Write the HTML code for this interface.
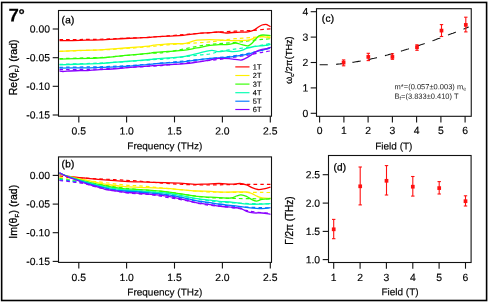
<!DOCTYPE html>
<html><head><meta charset="utf-8"><title>Faraday rotation 7 degrees</title>
<style>html,body{margin:0;padding:0;background:#fff;}body{width:489px;height:302px;overflow:hidden;}svg{display:block;will-change:transform;}text{font-family:"Liberation Sans", sans-serif;fill:#000;stroke:#000;stroke-width:0.15px;}</style>
</head><body>
<svg width="489" height="302" viewBox="0 0 489 302">
<rect x="0" y="0" width="489" height="302" fill="#fff"/>
<rect x="1.65" y="2.45" width="484.95" height="298.05" fill="none" stroke="#000" stroke-width="1.6"/>
<text transform="translate(8.5,21.5) rotate(0.04)" font-size="18.6" font-weight="bold" fill="#000">7<tspan font-size="15.5" dy="-1.5" dx="-0.4" stroke="#000" stroke-width="0.3">°</tspan></text>
<clipPath id="ca"><rect x="58.5" y="10.5" width="213.0" height="105.7"/></clipPath>
<g clip-path="url(#ca)" fill="none" stroke-linejoin="round">
<path d="M59.5,39.5 C62.9,39.5 72.2,39.6 80.0,39.5 C87.8,39.4 98.5,39.3 106.0,39.1 C113.5,38.9 117.7,38.5 125.0,38.2 C132.3,37.9 142.8,37.6 150.0,37.2 C157.2,36.8 158.8,36.6 168.0,35.9 C177.2,35.2 193.8,33.7 205.0,32.9 C216.2,32.1 227.2,31.6 235.0,31.2 C242.8,30.8 246.1,30.8 252.0,30.4 C257.9,30.0 267.4,29.1 270.5,28.8" stroke="#ff0000" stroke-width="1.22" stroke-dasharray="3.6,3.1"/>
<path d="M59.5,51.4 C62.9,51.3 72.2,50.9 80.0,50.6 C87.8,50.3 98.5,50.0 106.0,49.7 C113.5,49.4 117.7,49.1 125.0,48.6 C132.3,48.1 142.8,47.3 150.0,46.7 C157.2,46.1 160.2,45.4 168.0,44.8 C175.8,44.2 190.0,43.4 197.0,42.9 C204.0,42.4 203.7,42.6 210.0,41.9 C216.3,41.2 228.0,39.4 235.0,38.7 C242.0,38.0 246.1,38.0 252.0,37.5 C257.9,37.0 267.4,36.1 270.5,35.8" stroke="#fff000" stroke-width="1.22" stroke-dasharray="3.6,3.1"/>
<path d="M59.5,58.6 C64.6,58.5 82.2,58.0 90.0,57.8 C97.8,57.6 100.2,57.7 106.0,57.3 C111.8,56.9 117.7,56.2 125.0,55.6 C132.3,55.0 142.8,54.0 150.0,53.4 C157.2,52.8 158.8,53.3 168.0,51.9 C177.2,50.5 194.2,46.6 205.0,45.1 C215.8,43.6 225.8,43.4 233.0,42.7 C240.2,42.0 243.2,41.5 248.0,40.9 C252.8,40.3 258.2,39.8 262.0,39.4 C265.8,39.0 269.1,38.8 270.5,38.7" stroke="#33ff00" stroke-width="1.22" stroke-dasharray="3.6,3.1"/>
<path d="M59.5,64.4 C64.6,64.2 82.2,63.7 90.0,63.4 C97.8,63.1 100.2,63.1 106.0,62.8 C111.8,62.5 117.7,62.2 125.0,61.7 C132.3,61.2 142.8,60.4 150.0,59.9 C157.2,59.4 160.2,59.4 168.0,58.6 C175.8,57.8 190.0,56.1 197.0,55.3 C204.0,54.5 206.3,54.6 210.0,54.0 C213.7,53.4 215.2,52.4 219.0,51.6 C222.8,50.8 228.2,50.1 233.0,49.4 C237.8,48.7 243.2,48.0 248.0,47.3 C252.8,46.6 258.2,45.8 262.0,45.1 C265.8,44.4 269.1,43.6 270.5,43.3" stroke="#00ffb0" stroke-width="1.22" stroke-dasharray="3.6,3.1"/>
<path d="M59.5,67.3 C64.6,67.2 82.2,67.0 90.0,66.9 C97.8,66.8 100.2,66.8 106.0,66.6 C111.8,66.4 117.7,66.2 125.0,65.8 C132.3,65.4 142.8,64.5 150.0,64.0 C157.2,63.5 158.8,63.3 168.0,62.5 C177.2,61.7 194.2,60.1 205.0,59.0 C215.8,57.9 225.8,56.9 233.0,56.0 C240.2,55.1 243.2,54.4 248.0,53.4 C252.8,52.4 258.2,51.1 262.0,50.2 C265.8,49.3 269.1,48.5 270.5,48.2" stroke="#0078ff" stroke-width="1.22" stroke-dasharray="3.6,3.1"/>
<path d="M59.5,69.7 C64.6,69.6 82.2,69.5 90.0,69.3 C97.8,69.1 100.2,69.0 106.0,68.7 C111.8,68.4 117.7,68.0 125.0,67.6 C132.3,67.2 142.8,66.6 150.0,66.2 C157.2,65.8 158.8,65.9 168.0,65.0 C177.2,64.1 196.5,61.8 205.0,60.9 C213.5,60.0 214.3,60.0 219.0,59.4 C223.7,58.8 228.2,58.0 233.0,57.3 C237.8,56.6 243.2,55.9 248.0,55.1 C252.8,54.3 258.2,53.0 262.0,52.3 C265.8,51.6 269.1,51.1 270.5,50.9" stroke="#8a00ff" stroke-width="1.22" stroke-dasharray="3.6,3.1"/>
<path d="M59.5,40.7 C62.9,40.7 73.2,40.5 80.0,40.4 C86.8,40.2 92.5,40.1 100.0,39.8 C107.5,39.5 118.3,38.8 125.0,38.5 C131.7,38.2 135.8,38.1 140.0,37.9 C144.2,37.7 147.7,37.6 150.0,37.4 C152.3,37.2 151.0,37.1 154.0,36.9 C157.0,36.7 163.2,36.4 168.0,36.1 C172.8,35.8 178.2,35.7 183.0,35.3 C187.8,34.9 192.5,34.0 197.0,33.6 C201.5,33.2 206.3,32.9 210.0,32.6 C213.7,32.3 216.3,31.9 219.0,32.0 C221.7,32.1 223.7,32.9 226.0,33.0 C228.3,33.1 230.5,32.6 233.0,32.5 C235.5,32.4 238.5,32.2 241.0,32.1 C243.5,32.0 245.8,32.2 248.0,31.9 C250.2,31.6 252.3,31.0 254.0,30.2 C255.7,29.4 256.7,28.1 258.0,27.2 C259.3,26.3 260.7,25.5 262.0,25.0 C263.3,24.5 265.0,24.4 266.0,24.4 C267.0,24.4 267.2,24.8 268.0,25.2 C268.8,25.6 270.1,26.4 270.5,26.7" stroke="#ff0000" stroke-width="1.28"/>
<path d="M59.5,51.3 C62.9,51.1 73.2,50.6 80.0,50.4 C86.8,50.1 95.7,50.0 100.0,49.8 C104.3,49.6 101.8,49.6 106.0,49.3 C110.2,49.0 119.3,48.4 125.0,48.0 C130.7,47.6 135.8,47.2 140.0,46.9 C144.2,46.5 147.7,46.2 150.0,45.9 C152.3,45.6 151.0,45.5 154.0,45.2 C157.0,44.9 163.2,44.2 168.0,43.9 C172.8,43.6 179.3,43.9 183.0,43.6 C186.7,43.3 187.7,42.7 190.0,42.1 C192.3,41.5 193.7,40.6 197.0,40.2 C200.3,39.8 206.3,39.6 210.0,39.6 C213.7,39.6 215.2,39.8 219.0,40.0 C222.8,40.2 228.2,40.6 233.0,40.6 C237.8,40.6 244.5,40.6 248.0,40.2 C251.5,39.8 252.2,38.8 254.0,38.2 C255.8,37.6 257.3,37.0 259.0,36.8 C260.7,36.6 262.1,36.6 264.0,36.8 C265.9,37.0 269.4,37.7 270.5,37.9" stroke="#fff000" stroke-width="1.28"/>
<path d="M59.5,59.1 C64.6,59.0 83.2,58.5 90.0,58.3 C96.8,58.1 97.3,58.0 100.0,57.9 C102.7,57.8 101.8,57.9 106.0,57.5 C110.2,57.1 119.3,56.0 125.0,55.4 C130.7,54.8 135.8,54.5 140.0,54.1 C144.2,53.7 147.7,53.4 150.0,53.1 C152.3,52.8 151.0,52.8 154.0,52.5 C157.0,52.2 163.2,51.8 168.0,51.4 C172.8,51.0 178.2,51.0 183.0,50.4 C187.8,49.8 192.5,48.7 197.0,47.9 C201.5,47.1 206.3,45.9 210.0,45.4 C213.7,44.9 215.8,44.9 219.0,44.7 C222.2,44.5 226.2,44.7 229.0,44.4 C231.8,44.1 233.3,43.0 235.5,43.0 C237.7,43.0 239.9,44.2 242.0,44.7 C244.1,45.2 246.3,46.1 248.0,45.9 C249.7,45.6 250.7,44.4 252.0,43.2 C253.3,42.0 254.8,40.0 256.0,38.8 C257.2,37.6 257.8,36.5 259.0,35.9 C260.2,35.3 261.1,35.0 263.0,35.0 C264.9,35.0 269.2,35.5 270.5,35.6" stroke="#33ff00" stroke-width="1.28"/>
<path d="M59.5,64.8 C64.6,64.6 83.2,64.0 90.0,63.8 C96.8,63.6 97.3,63.6 100.0,63.5 C102.7,63.4 101.8,63.3 106.0,63.0 C110.2,62.7 119.3,62.0 125.0,61.5 C130.7,61.0 135.8,60.6 140.0,60.3 C144.2,60.0 147.7,59.7 150.0,59.5 C152.3,59.3 151.0,59.3 154.0,59.0 C157.0,58.7 163.2,58.3 168.0,57.9 C172.8,57.5 178.2,57.4 183.0,56.7 C187.8,56.0 193.3,54.5 197.0,53.6 C200.7,52.8 202.5,52.1 205.0,51.6 C207.5,51.1 209.7,50.4 212.0,50.4 C214.3,50.4 216.7,51.5 219.0,51.6 C221.3,51.7 223.7,50.9 226.0,50.9 C228.3,50.9 230.7,51.6 233.0,51.6 C235.3,51.6 237.8,51.4 240.0,50.9 C242.2,50.4 244.0,49.4 246.0,48.7 C248.0,48.1 250.0,47.4 252.0,47.0 C254.0,46.6 256.0,46.4 258.0,46.1 C260.0,45.9 262.3,45.7 264.0,45.5 C265.7,45.3 266.9,45.2 268.0,45.0 C269.1,44.8 270.1,44.2 270.5,44.1" stroke="#00ffb0" stroke-width="1.28"/>
<path d="M59.5,68.2 C64.6,68.1 83.2,67.9 90.0,67.8 C96.8,67.7 94.2,67.6 100.0,67.4 C105.8,67.2 118.3,66.8 125.0,66.4 C131.7,66.0 135.8,65.5 140.0,65.2 C144.2,64.9 147.7,64.6 150.0,64.4 C152.3,64.2 151.0,64.2 154.0,63.9 C157.0,63.6 163.2,63.2 168.0,62.9 C172.8,62.6 178.2,62.4 183.0,61.9 C187.8,61.4 192.5,60.6 197.0,60.0 C201.5,59.4 206.3,58.7 210.0,58.4 C213.7,58.1 215.2,58.3 219.0,58.0 C222.8,57.7 229.2,57.1 233.0,56.6 C236.8,56.1 239.5,55.5 242.0,55.1 C244.5,54.7 246.0,54.6 248.0,54.1 C250.0,53.6 252.2,52.8 254.0,52.3 C255.8,51.8 257.2,51.4 259.0,50.9 C260.8,50.4 263.1,50.0 265.0,49.4 C266.9,48.8 269.6,47.6 270.5,47.3" stroke="#0078ff" stroke-width="1.28"/>
<path d="M59.5,70.9 C60.1,71.0 61.2,71.5 63.0,71.5 C64.8,71.5 67.2,71.2 70.0,71.0 C72.8,70.8 77.3,70.5 80.0,70.5 C82.7,70.5 84.0,70.8 86.0,70.7 C88.0,70.7 89.7,70.4 92.0,70.2 C94.3,70.0 96.7,69.9 100.0,69.7 C103.3,69.5 107.8,69.3 112.0,69.0 C116.2,68.7 120.3,68.3 125.0,67.9 C129.7,67.5 135.8,66.9 140.0,66.6 C144.2,66.3 147.7,66.1 150.0,65.9 C152.3,65.7 151.0,65.8 154.0,65.6 C157.0,65.4 163.2,65.0 168.0,64.7 C172.8,64.4 178.2,64.3 183.0,63.9 C187.8,63.5 192.5,62.8 197.0,62.1 C201.5,61.5 206.3,60.6 210.0,60.0 C213.7,59.4 215.8,58.6 219.0,58.4 C222.2,58.2 226.3,58.5 229.0,58.7 C231.7,58.9 233.0,59.2 235.0,59.4 C237.0,59.6 239.3,60.2 241.0,60.1 C242.7,60.0 243.3,59.5 245.0,58.7 C246.7,57.9 249.2,56.3 251.0,55.1 C252.8,53.9 254.2,52.6 256.0,51.6 C257.8,50.6 260.0,49.9 262.0,49.4 C264.0,48.9 266.6,48.8 268.0,48.4 C269.4,48.0 270.1,47.5 270.5,47.3" stroke="#8a00ff" stroke-width="1.28"/>
</g>
<rect x="58.5" y="10.5" width="213.0" height="105.7" fill="none" stroke="#111" stroke-width="1.1"/>
<line x1="78.8" y1="116.2" x2="78.8" y2="122.4" stroke="#111" stroke-width="1.1"/>
<line x1="126.6" y1="116.2" x2="126.6" y2="122.4" stroke="#111" stroke-width="1.1"/>
<line x1="174.5" y1="116.2" x2="174.5" y2="122.4" stroke="#111" stroke-width="1.1"/>
<line x1="222.4" y1="116.2" x2="222.4" y2="122.4" stroke="#111" stroke-width="1.1"/>
<line x1="270.3" y1="116.2" x2="270.3" y2="122.4" stroke="#111" stroke-width="1.1"/>
<text transform="translate(78.80,134.50) rotate(0.04)" font-size="10.4" text-anchor="middle" >0.5</text>
<text transform="translate(126.60,134.50) rotate(0.04)" font-size="10.4" text-anchor="middle" >1.0</text>
<text transform="translate(174.50,134.50) rotate(0.04)" font-size="10.4" text-anchor="middle" >1.5</text>
<text transform="translate(222.40,134.50) rotate(0.04)" font-size="10.4" text-anchor="middle" >2.0</text>
<text transform="translate(270.30,134.50) rotate(0.04)" font-size="10.4" text-anchor="middle" >2.5</text>
<line x1="52.7" y1="29.0" x2="58.5" y2="29.0" stroke="#111" stroke-width="1.1"/>
<line x1="52.7" y1="57.7" x2="58.5" y2="57.7" stroke="#111" stroke-width="1.1"/>
<line x1="52.7" y1="86.3" x2="58.5" y2="86.3" stroke="#111" stroke-width="1.1"/>
<line x1="52.7" y1="115.0" x2="58.5" y2="115.0" stroke="#111" stroke-width="1.1"/>
<text transform="translate(50.00,32.50) rotate(0.04)" font-size="10.4" text-anchor="end" >0.00</text>
<text transform="translate(50.00,61.17) rotate(0.04)" font-size="10.4" text-anchor="end" >-0.05</text>
<text transform="translate(50.00,89.83) rotate(0.04)" font-size="10.4" text-anchor="end" >-0.10</text>
<text transform="translate(50.00,118.50) rotate(0.04)" font-size="10.4" text-anchor="end" >-0.15</text>
<text transform="translate(164.80,149.20) rotate(0.04)" font-size="10" text-anchor="middle" >Frequency (THz)</text>
<text transform="translate(17.1,67.4) rotate(-90)" font-size="10.5" text-anchor="middle" style="stroke-width:0.3px">Re(θ<tspan font-size="6" dy="1.5" dx="0.3">F</tspan><tspan dy="-1.5" dx="0.4">) (rad)</tspan></text>
<text transform="translate(61.60,23.30) rotate(0.04)" font-size="10" text-anchor="start" style="stroke-width:0.3px;letter-spacing:0.25px">(a)</text>
<line x1="235.3" y1="66.9" x2="249.5" y2="66.9" stroke="#ff0000" stroke-width="1.15"/>
<text transform="translate(252.80,69.50) rotate(0.04)" font-size="7.4" text-anchor="start" fill="#000">1T</text>
<line x1="235.3" y1="75.5" x2="249.5" y2="75.5" stroke="#fff000" stroke-width="1.15"/>
<text transform="translate(252.80,78.10) rotate(0.04)" font-size="7.4" text-anchor="start" fill="#000">2T</text>
<line x1="235.3" y1="84.1" x2="249.5" y2="84.1" stroke="#33ff00" stroke-width="1.15"/>
<text transform="translate(252.80,86.70) rotate(0.04)" font-size="7.4" text-anchor="start" fill="#000">3T</text>
<line x1="235.3" y1="92.7" x2="249.5" y2="92.7" stroke="#00ffb0" stroke-width="1.15"/>
<text transform="translate(252.80,95.30) rotate(0.04)" font-size="7.4" text-anchor="start" fill="#000">4T</text>
<line x1="235.3" y1="101.2" x2="249.5" y2="101.2" stroke="#0078ff" stroke-width="1.15"/>
<text transform="translate(252.80,103.80) rotate(0.04)" font-size="7.4" text-anchor="start" fill="#000">5T</text>
<line x1="235.3" y1="109.5" x2="249.5" y2="109.5" stroke="#8a00ff" stroke-width="1.15"/>
<text transform="translate(252.80,112.10) rotate(0.04)" font-size="7.4" text-anchor="start" fill="#000">6T</text>
<clipPath id="cb"><rect x="58.5" y="156.9" width="213.0" height="105.49999999999997"/></clipPath>
<g clip-path="url(#cb)" fill="none" stroke-linejoin="round">
<path d="M59.5,175.8 C60.9,176.1 65.4,177.0 68.0,177.3 C70.6,177.6 72.3,177.6 75.0,177.7 C77.7,177.8 80.2,177.9 84.0,178.1 C87.8,178.3 91.2,178.6 98.0,178.9 C104.8,179.2 116.3,179.7 125.0,180.2 C133.7,180.7 143.3,181.5 150.0,182.0 C156.7,182.5 159.5,183.0 165.0,183.4 C170.5,183.8 176.3,184.1 183.0,184.4 C189.7,184.7 196.3,185.0 205.0,185.0 C213.7,185.0 224.1,184.6 235.0,184.5 C245.9,184.4 264.6,184.4 270.5,184.4" stroke="#ff0000" stroke-width="1.22" stroke-dasharray="3.6,3.1"/>
<path d="M59.5,177.4 C60.9,177.7 65.4,178.6 68.0,179.0 C70.6,179.4 72.3,179.8 75.0,180.0 C77.7,180.2 80.2,180.2 84.0,180.5 C87.8,180.8 91.2,181.1 98.0,181.8 C104.8,182.6 118.0,184.3 125.0,185.0 C132.0,185.7 133.3,185.4 140.0,185.9 C146.7,186.4 154.2,187.2 165.0,188.2 C175.8,189.2 193.3,191.1 205.0,191.8 C216.7,192.5 224.1,192.2 235.0,192.3 C245.9,192.4 264.6,192.5 270.5,192.5" stroke="#fff000" stroke-width="1.22" stroke-dasharray="3.6,3.1"/>
<path d="M59.5,178.4 C60.9,178.6 65.4,179.4 68.0,179.8 C70.6,180.2 72.3,180.5 75.0,180.8 C77.7,181.1 80.2,181.1 84.0,181.6 C87.8,182.1 91.2,182.9 98.0,184.0 C104.8,185.1 113.8,186.9 125.0,188.2 C136.2,189.5 151.7,190.3 165.0,191.8 C178.3,193.3 193.3,196.1 205.0,197.2 C216.7,198.3 224.1,198.1 235.0,198.4 C245.9,198.7 264.6,198.8 270.5,198.9" stroke="#33ff00" stroke-width="1.22" stroke-dasharray="3.6,3.1"/>
<path d="M59.5,179.2 C60.9,179.4 65.4,180.1 68.0,180.4 C70.6,180.8 72.3,181.0 75.0,181.3 C77.7,181.6 80.2,181.6 84.0,182.3 C87.8,183.0 91.2,184.2 98.0,185.4 C104.8,186.7 113.8,188.5 125.0,189.8 C136.2,191.1 151.7,191.7 165.0,193.4 C178.3,195.1 193.3,198.6 205.0,200.2 C216.7,201.8 224.1,202.4 235.0,203.0 C245.9,203.6 264.6,203.8 270.5,204.0" stroke="#00ffb0" stroke-width="1.22" stroke-dasharray="3.6,3.1"/>
<path d="M59.5,179.9 C60.9,180.1 65.4,180.6 68.0,180.9 C70.6,181.2 72.3,181.5 75.0,181.8 C77.7,182.1 80.2,182.1 84.0,182.9 C87.8,183.7 91.2,185.1 98.0,186.4 C104.8,187.8 113.8,189.6 125.0,191.0 C136.2,192.4 151.7,193.1 165.0,195.0 C178.3,196.9 193.3,200.7 205.0,202.6 C216.7,204.5 224.1,205.5 235.0,206.4 C245.9,207.3 264.6,207.7 270.5,208.0" stroke="#0078ff" stroke-width="1.22" stroke-dasharray="3.6,3.1"/>
<path d="M59.5,180.5 C60.9,180.7 65.4,181.1 68.0,181.4 C70.6,181.7 72.3,182.0 75.0,182.3 C77.7,182.7 80.2,182.7 84.0,183.5 C87.8,184.3 91.2,185.9 98.0,187.4 C104.8,188.9 116.3,191.4 125.0,192.6 C133.7,193.8 143.3,193.9 150.0,194.6 C156.7,195.3 159.5,196.1 165.0,197.0 C170.5,197.9 176.3,198.7 183.0,200.0 C189.7,201.3 196.3,203.3 205.0,204.6 C213.7,205.9 228.2,207.0 235.0,208.0 C241.8,209.0 242.7,209.7 246.0,210.4 C249.3,211.1 250.9,211.5 255.0,212.0 C259.1,212.5 267.9,213.2 270.5,213.4" stroke="#8a00ff" stroke-width="1.22" stroke-dasharray="3.6,3.1"/>
<path d="M59.5,174.0 C61.1,174.4 64.9,175.7 69.0,176.4 C73.1,177.1 79.2,177.5 84.0,178.0 C88.8,178.5 93.5,179.0 98.0,179.4 C102.5,179.8 106.5,180.1 111.0,180.4 C115.5,180.7 120.2,181.1 125.0,181.3 C129.8,181.6 133.3,181.7 140.0,181.9 C146.7,182.1 157.8,182.4 165.0,182.6 C172.2,182.8 178.0,183.0 183.0,183.3 C188.0,183.6 191.3,184.2 195.0,184.3 C198.7,184.4 201.0,184.2 205.0,184.1 C209.0,184.0 214.7,183.5 219.0,183.5 C223.3,183.5 227.5,184.1 231.0,184.1 C234.5,184.1 237.4,183.4 240.0,183.5 C242.6,183.6 244.5,184.2 246.5,184.9 C248.5,185.6 250.1,186.9 252.0,187.7 C253.9,188.5 256.0,189.3 258.0,189.5 C260.0,189.7 261.9,189.3 264.0,188.9 C266.1,188.5 269.4,187.5 270.5,187.2" stroke="#ff0000" stroke-width="1.28"/>
<path d="M59.5,173.6 C61.1,174.1 64.9,175.6 69.0,176.6 C73.1,177.6 79.2,178.7 84.0,179.7 C88.8,180.7 93.5,181.9 98.0,182.8 C102.5,183.7 106.5,184.4 111.0,185.0 C115.5,185.6 120.2,186.2 125.0,186.6 C129.8,187.0 133.3,187.0 140.0,187.3 C146.7,187.6 157.8,188.0 165.0,188.4 C172.2,188.8 177.7,189.5 183.0,189.9 C188.3,190.3 192.5,190.8 197.0,191.0 C201.5,191.2 206.3,191.2 210.0,191.4 C213.7,191.6 215.2,191.9 219.0,192.0 C222.8,192.1 228.5,192.0 233.0,192.0 C237.5,192.0 242.8,191.7 246.0,192.0 C249.2,192.3 250.2,192.9 252.0,193.6 C253.8,194.3 255.3,195.5 257.0,196.2 C258.7,196.9 259.8,197.5 262.0,197.9 C264.2,198.3 269.1,198.4 270.5,198.5" stroke="#fff000" stroke-width="1.28"/>
<path d="M59.5,173.3 C61.1,173.9 64.9,175.5 69.0,176.8 C73.1,178.1 79.2,179.7 84.0,180.9 C88.8,182.2 93.5,183.3 98.0,184.3 C102.5,185.3 106.5,186.2 111.0,187.0 C115.5,187.8 120.2,188.4 125.0,188.8 C129.8,189.2 133.3,189.1 140.0,189.6 C146.7,190.1 157.8,190.8 165.0,191.6 C172.2,192.4 177.7,193.4 183.0,194.2 C188.3,195.0 192.5,195.9 197.0,196.4 C201.5,196.9 206.3,197.0 210.0,197.2 C213.7,197.4 215.5,197.5 219.0,197.6 C222.5,197.7 228.1,198.3 231.0,198.0 C233.9,197.7 234.8,196.5 236.5,196.0 C238.2,195.5 239.3,194.8 241.0,194.9 C242.7,195.0 244.7,195.6 246.5,196.4 C248.3,197.2 250.3,198.9 252.0,199.7 C253.7,200.5 254.8,201.1 256.5,201.1 C258.2,201.1 259.7,199.8 262.0,199.4 C264.3,199.0 269.1,198.7 270.5,198.5" stroke="#33ff00" stroke-width="1.28"/>
<path d="M59.5,173.1 C61.1,173.7 64.9,175.5 69.0,176.9 C73.1,178.3 79.2,180.1 84.0,181.5 C88.8,182.9 93.5,184.3 98.0,185.4 C102.5,186.5 106.5,187.4 111.0,188.2 C115.5,189.0 120.2,189.6 125.0,190.0 C129.8,190.4 133.3,190.4 140.0,190.9 C146.7,191.4 157.8,192.1 165.0,192.9 C172.2,193.7 177.7,194.9 183.0,195.8 C188.3,196.8 192.5,197.9 197.0,198.6 C201.5,199.3 206.3,199.8 210.0,200.2 C213.7,200.6 215.2,201.0 219.0,201.3 C222.8,201.7 228.2,201.8 233.0,202.3 C237.8,202.8 243.2,203.8 248.0,204.1 C252.8,204.4 258.2,204.2 262.0,204.1 C265.8,204.0 269.1,203.7 270.5,203.6" stroke="#00ffb0" stroke-width="1.28"/>
<path d="M59.5,173.0 C61.1,173.7 64.9,175.5 69.0,177.0 C73.1,178.5 79.2,180.6 84.0,182.1 C88.8,183.6 93.5,185.0 98.0,186.2 C102.5,187.4 106.5,188.5 111.0,189.3 C115.5,190.1 120.2,190.6 125.0,191.0 C129.8,191.4 133.3,191.4 140.0,192.0 C146.7,192.6 157.8,193.4 165.0,194.3 C172.2,195.2 177.7,196.5 183.0,197.6 C188.3,198.7 192.5,200.0 197.0,200.8 C201.5,201.6 206.3,202.1 210.0,202.6 C213.7,203.1 215.2,203.5 219.0,204.0 C222.8,204.5 228.2,205.0 233.0,205.6 C237.8,206.2 243.2,207.1 248.0,207.6 C252.8,208.1 258.2,208.6 262.0,208.6 C265.8,208.6 269.1,207.8 270.5,207.6" stroke="#0078ff" stroke-width="1.28"/>
<path d="M59.5,172.6 C60.2,173.0 61.9,174.2 63.5,175.0 C65.1,175.8 66.9,176.5 69.0,177.3 C71.1,178.1 73.5,179.1 76.0,180.0 C78.5,180.9 81.5,182.1 84.0,183.0 C86.5,183.9 88.7,184.5 91.0,185.2 C93.3,185.9 95.7,186.4 98.0,187.1 C100.3,187.8 102.7,188.7 105.0,189.3 C107.3,189.9 108.7,190.0 112.0,190.5 C115.3,191.0 120.3,191.8 125.0,192.3 C129.7,192.8 133.3,192.7 140.0,193.3 C146.7,193.9 157.8,194.8 165.0,195.8 C172.2,196.8 177.7,198.1 183.0,199.3 C188.3,200.5 192.5,202.0 197.0,202.9 C201.5,203.8 206.3,204.1 210.0,204.6 C213.7,205.1 215.2,205.5 219.0,206.0 C222.8,206.5 229.5,207.1 233.0,207.5 C236.5,207.9 237.8,207.6 240.0,208.2 C242.2,208.8 244.2,210.5 246.5,211.3 C248.8,212.1 250.9,212.6 253.5,212.9 C256.1,213.2 259.2,212.8 262.0,213.0 C264.8,213.2 269.1,214.1 270.5,214.3" stroke="#8a00ff" stroke-width="1.28"/>
</g>
<rect x="58.5" y="156.9" width="213.0" height="105.49999999999997" fill="none" stroke="#111" stroke-width="1.1"/>
<line x1="78.8" y1="262.4" x2="78.8" y2="268.59999999999997" stroke="#111" stroke-width="1.1"/>
<line x1="126.6" y1="262.4" x2="126.6" y2="268.59999999999997" stroke="#111" stroke-width="1.1"/>
<line x1="174.5" y1="262.4" x2="174.5" y2="268.59999999999997" stroke="#111" stroke-width="1.1"/>
<line x1="222.4" y1="262.4" x2="222.4" y2="268.59999999999997" stroke="#111" stroke-width="1.1"/>
<line x1="270.3" y1="262.4" x2="270.3" y2="268.59999999999997" stroke="#111" stroke-width="1.1"/>
<text transform="translate(78.80,281.00) rotate(0.04)" font-size="10.4" text-anchor="middle" >0.5</text>
<text transform="translate(126.60,281.00) rotate(0.04)" font-size="10.4" text-anchor="middle" >1.0</text>
<text transform="translate(174.50,281.00) rotate(0.04)" font-size="10.4" text-anchor="middle" >1.5</text>
<text transform="translate(222.40,281.00) rotate(0.04)" font-size="10.4" text-anchor="middle" >2.0</text>
<text transform="translate(270.30,281.00) rotate(0.04)" font-size="10.4" text-anchor="middle" >2.5</text>
<line x1="52.7" y1="175.4" x2="58.5" y2="175.4" stroke="#111" stroke-width="1.1"/>
<line x1="52.7" y1="204.1" x2="58.5" y2="204.1" stroke="#111" stroke-width="1.1"/>
<line x1="52.7" y1="232.7" x2="58.5" y2="232.7" stroke="#111" stroke-width="1.1"/>
<line x1="52.7" y1="261.4" x2="58.5" y2="261.4" stroke="#111" stroke-width="1.1"/>
<text transform="translate(50.00,178.90) rotate(0.04)" font-size="10.4" text-anchor="end" >0.00</text>
<text transform="translate(50.00,207.57) rotate(0.04)" font-size="10.4" text-anchor="end" >-0.05</text>
<text transform="translate(50.00,236.23) rotate(0.04)" font-size="10.4" text-anchor="end" >-0.10</text>
<text transform="translate(50.00,264.90) rotate(0.04)" font-size="10.4" text-anchor="end" >-0.15</text>
<text transform="translate(164.80,295.60) rotate(0.04)" font-size="10" text-anchor="middle" >Frequency (THz)</text>
<text transform="translate(17.1,211.8) rotate(-90)" font-size="10.5" text-anchor="middle" style="stroke-width:0.3px">Im(θ<tspan font-size="6" dy="1.5" dx="0.3">F</tspan><tspan dy="-1.5" dx="0.4">) (rad)</tspan></text>
<text transform="translate(61.60,167.30) rotate(0.04)" font-size="10" text-anchor="start" style="stroke-width:0.3px;letter-spacing:0.25px">(b)</text>
<clipPath id="cc"><rect x="316.5" y="8.7" width="154.75" height="107.6"/></clipPath>
<g clip-path="url(#cc)">
<path d="M319.6,64.8 L320.8,64.8 L322.0,64.8 L323.2,64.8 L324.5,64.8 L325.7,64.8 L326.9,64.7 L328.1,64.7 L329.3,64.6 L330.5,64.6 L331.7,64.5 L332.9,64.4 L334.2,64.4 L335.4,64.3 L336.6,64.2 L337.8,64.1 L339.0,64.0 L340.2,63.9 L341.4,63.7 L342.6,63.6 L343.9,63.5 L345.1,63.3 L346.3,63.2 L347.5,63.0 L348.7,62.9 L349.9,62.7 L351.1,62.6 L352.3,62.4 L353.6,62.2 L354.8,62.0 L356.0,61.8 L357.2,61.6 L358.4,61.4 L359.6,61.2 L360.8,61.0 L362.0,60.8 L363.2,60.5 L364.5,60.3 L365.7,60.1 L366.9,59.8 L368.1,59.6 L369.3,59.3 L370.5,59.1 L371.7,58.8 L373.0,58.5 L374.2,58.3 L375.4,58.0 L376.6,57.7 L377.8,57.4 L379.0,57.1 L380.2,56.8 L381.4,56.5 L382.7,56.2 L383.9,55.9 L385.1,55.6 L386.3,55.3 L387.5,55.0 L388.7,54.6 L389.9,54.3 L391.1,54.0 L392.4,53.6 L393.6,53.3 L394.8,53.0 L396.0,52.6 L397.2,52.3 L398.4,51.9 L399.6,51.5 L400.8,51.2 L402.1,50.8 L403.3,50.5 L404.5,50.1 L405.7,49.7 L406.9,49.3 L408.1,49.0 L409.3,48.6 L410.5,48.2 L411.8,47.8 L413.0,47.4 L414.2,47.0 L415.4,46.6 L416.6,46.2 L417.8,45.8 L419.0,45.4 L420.2,45.0 L421.5,44.6 L422.7,44.2 L423.9,43.8 L425.1,43.3 L426.3,42.9 L427.5,42.5 L428.7,42.1 L429.9,41.6 L431.2,41.2 L432.4,40.8 L433.6,40.4 L434.8,39.9 L436.0,39.5 L437.2,39.0 L438.4,38.6 L439.6,38.2 L440.9,37.7 L442.1,37.3 L443.3,36.8 L444.5,36.4 L445.7,35.9 L446.9,35.5 L448.1,35.0 L449.3,34.6 L450.6,34.1 L451.8,33.6 L453.0,33.2 L454.2,32.7 L455.4,32.3 L456.6,31.8 L457.8,31.3 L459.0,30.9 L460.2,30.4 L461.5,29.9 L462.7,29.4 L463.9,29.0 L465.1,28.5 L466.3,28.0 L467.5,27.5 L468.7,27.1" fill="none" stroke="#111" stroke-width="1.1" stroke-dasharray="8.4,8.2" stroke-dashoffset="0.2"/>
</g>
<g stroke="#ff1010" stroke-width="1.1" fill="#ff1010"><line x1="343.6" y1="59.9" x2="343.6" y2="65.8"/><line x1="341.90000000000003" y1="59.9" x2="345.3" y2="59.9"/><line x1="341.90000000000003" y1="65.8" x2="345.3" y2="65.8"/><rect x="341.75" y="60.75" width="3.7" height="3.7" stroke="none"/></g>
<g stroke="#ff1010" stroke-width="1.1" fill="#ff1010"><line x1="368.3" y1="53.3" x2="368.3" y2="60.6"/><line x1="366.6" y1="53.3" x2="370.0" y2="53.3"/><line x1="366.6" y1="60.6" x2="370.0" y2="60.6"/><rect x="366.45" y="55.05" width="3.7" height="3.7" stroke="none"/></g>
<g stroke="#ff1010" stroke-width="1.1" fill="#ff1010"><line x1="392.4" y1="53.8" x2="392.4" y2="59.3"/><line x1="390.7" y1="53.8" x2="394.09999999999997" y2="53.8"/><line x1="390.7" y1="59.3" x2="394.09999999999997" y2="59.3"/><rect x="390.54999999999995" y="55.05" width="3.7" height="3.7" stroke="none"/></g>
<g stroke="#ff1010" stroke-width="1.1" fill="#ff1010"><line x1="417.0" y1="44.8" x2="417.0" y2="50.3"/><line x1="415.3" y1="44.8" x2="418.7" y2="44.8"/><line x1="415.3" y1="50.3" x2="418.7" y2="50.3"/><rect x="415.15" y="45.35" width="3.7" height="3.7" stroke="none"/></g>
<g stroke="#ff1010" stroke-width="1.1" fill="#ff1010"><line x1="441.5" y1="24.6" x2="441.5" y2="36.5"/><line x1="439.8" y1="24.6" x2="443.2" y2="24.6"/><line x1="439.8" y1="36.5" x2="443.2" y2="36.5"/><rect x="439.65" y="28.75" width="3.7" height="3.7" stroke="none"/></g>
<g stroke="#ff1010" stroke-width="1.1" fill="#ff1010"><line x1="465.8" y1="17.2" x2="465.8" y2="31.9"/><line x1="464.1" y1="17.2" x2="467.5" y2="17.2"/><line x1="464.1" y1="31.9" x2="467.5" y2="31.9"/><rect x="463.95" y="23.049999999999997" width="3.7" height="3.7" stroke="none"/></g>
<rect x="316.5" y="8.7" width="154.75" height="107.6" fill="none" stroke="#111" stroke-width="1.1"/>
<line x1="319.6" y1="116.3" x2="319.6" y2="122.5" stroke="#111" stroke-width="1.1"/>
<line x1="343.9" y1="116.3" x2="343.9" y2="122.5" stroke="#111" stroke-width="1.1"/>
<line x1="368.1" y1="116.3" x2="368.1" y2="122.5" stroke="#111" stroke-width="1.1"/>
<line x1="392.4" y1="116.3" x2="392.4" y2="122.5" stroke="#111" stroke-width="1.1"/>
<line x1="416.6" y1="116.3" x2="416.6" y2="122.5" stroke="#111" stroke-width="1.1"/>
<line x1="440.9" y1="116.3" x2="440.9" y2="122.5" stroke="#111" stroke-width="1.1"/>
<line x1="465.1" y1="116.3" x2="465.1" y2="122.5" stroke="#111" stroke-width="1.1"/>
<text transform="translate(319.60,134.00) rotate(0.04)" font-size="10.4" text-anchor="middle" >0</text>
<text transform="translate(343.85,134.00) rotate(0.04)" font-size="10.4" text-anchor="middle" >1</text>
<text transform="translate(368.10,134.00) rotate(0.04)" font-size="10.4" text-anchor="middle" >2</text>
<text transform="translate(392.35,134.00) rotate(0.04)" font-size="10.4" text-anchor="middle" >3</text>
<text transform="translate(416.60,134.00) rotate(0.04)" font-size="10.4" text-anchor="middle" >4</text>
<text transform="translate(440.85,134.00) rotate(0.04)" font-size="10.4" text-anchor="middle" >5</text>
<text transform="translate(465.10,134.00) rotate(0.04)" font-size="10.4" text-anchor="middle" >6</text>
<line x1="310.7" y1="11.7" x2="316.5" y2="11.7" stroke="#111" stroke-width="1.1"/>
<line x1="310.7" y1="37.1" x2="316.5" y2="37.1" stroke="#111" stroke-width="1.1"/>
<line x1="310.7" y1="62.5" x2="316.5" y2="62.5" stroke="#111" stroke-width="1.1"/>
<line x1="310.7" y1="87.9" x2="316.5" y2="87.9" stroke="#111" stroke-width="1.1"/>
<line x1="310.7" y1="113.3" x2="316.5" y2="113.3" stroke="#111" stroke-width="1.1"/>
<text transform="translate(308.20,15.30) rotate(0.04)" font-size="10.4" text-anchor="end" >4</text>
<text transform="translate(308.20,40.70) rotate(0.04)" font-size="10.4" text-anchor="end" >3</text>
<text transform="translate(308.20,66.10) rotate(0.04)" font-size="10.4" text-anchor="end" >2</text>
<text transform="translate(308.20,91.50) rotate(0.04)" font-size="10.4" text-anchor="end" >1</text>
<text transform="translate(308.20,116.90) rotate(0.04)" font-size="10.4" text-anchor="end" >0</text>
<text transform="translate(393.80,149.40) rotate(0.04)" font-size="10" text-anchor="middle" >Field (T)</text>
<text transform="translate(292.3,60.1) rotate(-90)" font-size="9.1" text-anchor="middle" style="stroke-width:0.25px">ω<tspan font-size="6" dy="1.5">c</tspan><tspan dy="-1.5">/2π</tspan><tspan dx="0.7">(THz)</tspan></text>
<text transform="translate(321.80,21.80) rotate(0.04)" font-size="10" text-anchor="start" style="stroke-width:0.3px;letter-spacing:0.25px">(c)</text>
<text transform="translate(394.60,89.30) rotate(0.04)" font-size="7.5" text-anchor="start" style="fill:#222;stroke:none">m*=(0.057±0.003) m<tspan font-size="5" dy="1.2">e</tspan></text>
<text transform="translate(394.60,98.70) rotate(0.04)" font-size="7.5" text-anchor="start" style="fill:#222;stroke:none">B<tspan font-size="5" dy="1.2">f</tspan><tspan dy="-1.2">=(3.833±0.410) T</tspan></text>
<g stroke="#ff1010" stroke-width="1.1" fill="#ff1010"><line x1="333.7" y1="219.4" x2="333.7" y2="238.7"/><line x1="332.0" y1="219.4" x2="335.4" y2="219.4"/><line x1="332.0" y1="238.7" x2="335.4" y2="238.7"/><rect x="331.84999999999997" y="227.45000000000002" width="3.7" height="3.7" stroke="none"/></g>
<g stroke="#ff1010" stroke-width="1.1" fill="#ff1010"><line x1="360.2" y1="167.0" x2="360.2" y2="204.9"/><line x1="358.5" y1="167.0" x2="361.9" y2="167.0"/><line x1="358.5" y1="204.9" x2="361.9" y2="204.9"/><rect x="358.34999999999997" y="184.45000000000002" width="3.7" height="3.7" stroke="none"/></g>
<g stroke="#ff1010" stroke-width="1.1" fill="#ff1010"><line x1="386.5" y1="165.6" x2="386.5" y2="195.0"/><line x1="384.8" y1="165.6" x2="388.2" y2="165.6"/><line x1="384.8" y1="195.0" x2="388.2" y2="195.0"/><rect x="384.65" y="178.95000000000002" width="3.7" height="3.7" stroke="none"/></g>
<g stroke="#ff1010" stroke-width="1.1" fill="#ff1010"><line x1="412.8" y1="176.5" x2="412.8" y2="196.1"/><line x1="411.1" y1="176.5" x2="414.5" y2="176.5"/><line x1="411.1" y1="196.1" x2="414.5" y2="196.1"/><rect x="410.95" y="184.85" width="3.7" height="3.7" stroke="none"/></g>
<g stroke="#ff1010" stroke-width="1.1" fill="#ff1010"><line x1="439.2" y1="181.6" x2="439.2" y2="194.0"/><line x1="437.5" y1="181.6" x2="440.9" y2="181.6"/><line x1="437.5" y1="194.0" x2="440.9" y2="194.0"/><rect x="437.34999999999997" y="186.25" width="3.7" height="3.7" stroke="none"/></g>
<g stroke="#ff1010" stroke-width="1.1" fill="#ff1010"><line x1="465.5" y1="195.8" x2="465.5" y2="206.0"/><line x1="463.8" y1="195.8" x2="467.2" y2="195.8"/><line x1="463.8" y1="206.0" x2="467.2" y2="206.0"/><rect x="463.65" y="199.35" width="3.7" height="3.7" stroke="none"/></g>
<rect x="328.5" y="155.5" width="142.60000000000002" height="107.0" fill="none" stroke="#111" stroke-width="1.1"/>
<line x1="333.7" y1="262.5" x2="333.7" y2="268.7" stroke="#111" stroke-width="1.1"/>
<line x1="360.1" y1="262.5" x2="360.1" y2="268.7" stroke="#111" stroke-width="1.1"/>
<line x1="386.4" y1="262.5" x2="386.4" y2="268.7" stroke="#111" stroke-width="1.1"/>
<line x1="412.8" y1="262.5" x2="412.8" y2="268.7" stroke="#111" stroke-width="1.1"/>
<line x1="439.1" y1="262.5" x2="439.1" y2="268.7" stroke="#111" stroke-width="1.1"/>
<line x1="465.5" y1="262.5" x2="465.5" y2="268.7" stroke="#111" stroke-width="1.1"/>
<text transform="translate(333.70,281.00) rotate(0.04)" font-size="10.4" text-anchor="middle" >1</text>
<text transform="translate(360.06,281.00) rotate(0.04)" font-size="10.4" text-anchor="middle" >2</text>
<text transform="translate(386.42,281.00) rotate(0.04)" font-size="10.4" text-anchor="middle" >3</text>
<text transform="translate(412.78,281.00) rotate(0.04)" font-size="10.4" text-anchor="middle" >4</text>
<text transform="translate(439.14,281.00) rotate(0.04)" font-size="10.4" text-anchor="middle" >5</text>
<text transform="translate(465.50,281.00) rotate(0.04)" font-size="10.4" text-anchor="middle" >6</text>
<line x1="322.7" y1="174.7" x2="328.5" y2="174.7" stroke="#111" stroke-width="1.1"/>
<line x1="322.7" y1="203.1" x2="328.5" y2="203.1" stroke="#111" stroke-width="1.1"/>
<line x1="322.7" y1="231.4" x2="328.5" y2="231.4" stroke="#111" stroke-width="1.1"/>
<line x1="322.7" y1="259.6" x2="328.5" y2="259.6" stroke="#111" stroke-width="1.1"/>
<text transform="translate(320.10,178.30) rotate(0.04)" font-size="10.4" text-anchor="end" >2.5</text>
<text transform="translate(320.10,206.65) rotate(0.04)" font-size="10.4" text-anchor="end" >2.0</text>
<text transform="translate(320.10,235.00) rotate(0.04)" font-size="10.4" text-anchor="end" >1.5</text>
<text transform="translate(320.10,263.20) rotate(0.04)" font-size="10.4" text-anchor="end" >1.0</text>
<text transform="translate(400.00,295.20) rotate(0.04)" font-size="10" text-anchor="middle" >Field (T)</text>
<text transform="translate(293.3,220.6) rotate(-90)" font-size="10" text-anchor="middle" style="stroke-width:0.25px">Γ/2π (THz)</text>
<text transform="translate(333.40,170.60) rotate(0.04)" font-size="10" text-anchor="start" style="stroke-width:0.3px;letter-spacing:0.25px">(d)</text>
</svg>
</body></html>
